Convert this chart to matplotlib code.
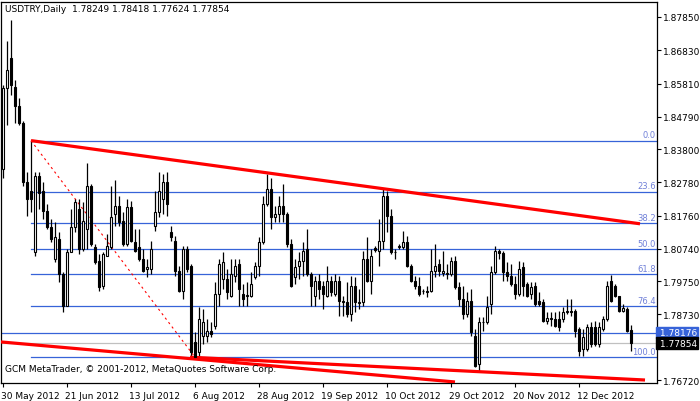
import matplotlib
matplotlib.use("Agg")
import matplotlib.pyplot as plt
from matplotlib.patches import Rectangle
import matplotlib.transforms as mt

symbol = "USDTRY,Daily"
opens = [1.8320,1.8566,1.8659,1.8569,1.8511,1.8459,1.8280,1.8253,1.8065,1.8296,
 1.8250,1.8191,1.8142,1.8044,1.8105,1.7998,1.7899,1.8065,1.8142,1.8197,
 1.8074,1.8136,1.8268,1.8081,1.8038,1.7961,1.8053,1.8081,1.8182,1.8207,
 1.8161,1.8090,1.8201,1.8096,1.8081,1.8044,1.8013,1.8013,1.8145,1.8188,
 1.8228,1.8280,1.8127,1.8099,1.8007,1.7945,1.8074,1.8022,1.7789,1.7758,
 1.7807,1.7807,1.7822,1.7838,1.7936,1.7982,1.7982,1.7930,1.7992,1.8028,
 1.7936,1.7930,1.7930,1.7988,1.8022,1.8096,1.8213,1.8259,1.8173,1.8182,
 1.8207,1.8182,1.8090,1.7988,1.8022,1.8038,1.8074,1.7998,1.7930,1.7976,
 1.7961,1.7930,1.7976,1.7936,1.7976,1.7915,1.7912,1.7875,1.7961,1.7908,
 1.7912,1.8044,1.7976,1.8078,1.8068,1.8099,1.8237,1.8176,1.8065,1.8081,
 1.8081,1.8096,1.8022,1.7976,1.7961,1.7945,1.7945,1.7945,1.8007,1.8028,
 1.8001,1.7998,1.7998,1.8038,1.7958,1.7921,1.7875,1.7915,1.7807,1.7721,
 1.7850,1.7850,1.7905,1.8004,1.8068,1.8062,1.8004,1.7992,1.7967,1.7936,
 1.8019,1.7967,1.7936,1.7961,1.7915,1.7912,1.7853,1.7859,1.7859,1.7859,
 1.7859,1.7881,1.7884,1.7884,1.7829,1.7767,1.7767,1.7835,1.7835,1.7782,
 1.7829,1.7859,1.7976,1.7961,1.7930,1.7884,1.7890,1.78249]
highs = [1.8576,1.8711,1.8775,1.8591,1.8536,1.8465,1.8311,1.8406,1.8311,1.8311,
 1.8280,1.8213,1.8167,1.8157,1.8127,1.8004,1.8074,1.8197,1.8228,1.8228,
 1.8219,1.8336,1.8274,1.8090,1.8059,1.8065,1.8121,1.8268,1.8284,1.8237,
 1.8188,1.8228,1.8222,1.8136,1.8136,1.8074,1.8044,1.8099,1.8250,1.8311,
 1.8305,1.8311,1.8145,1.8114,1.8022,1.8084,1.8084,1.8028,1.7819,1.7896,
 1.7890,1.7859,1.7850,1.7973,1.8044,1.8065,1.8013,1.8044,1.8044,1.8044,
 1.7967,1.7973,1.8004,1.8035,1.8111,1.8237,1.8305,1.8290,1.8207,1.8237,
 1.8274,1.8188,1.8105,1.8044,1.8065,1.8096,1.8136,1.8004,1.7992,1.7998,
 1.7976,1.8022,1.7992,1.7998,1.7992,1.7930,1.7973,1.7992,1.7988,1.7952,
 1.8068,1.8111,1.8074,1.8084,1.8167,1.8259,1.8253,1.8197,1.8074,1.8090,
 1.8130,1.8114,1.8028,1.7992,1.7988,1.7952,1.7961,1.8074,1.8090,1.8044,
 1.8068,1.8028,1.8050,1.8053,1.7973,1.7961,1.7942,1.7952,1.7829,1.7865,
 1.7865,1.7930,1.8022,1.8084,1.8074,1.8068,1.8035,1.8028,1.7992,1.8038,
 1.8035,1.7973,1.7973,1.7973,1.7942,1.7921,1.7881,1.7881,1.7881,1.7884,
 1.7896,1.7921,1.7921,1.7890,1.7835,1.7829,1.7844,1.7850,1.7853,1.7850,
 1.7869,1.7976,1.7995,1.7967,1.7930,1.7905,1.7896,1.78418]
lows = [1.8290,1.8453,1.8545,1.8459,1.8453,1.8268,1.8176,1.8188,1.8053,1.8197,
 1.8167,1.8136,1.8096,1.8035,1.7973,1.7881,1.7899,1.8065,1.8127,1.8059,
 1.8068,1.8074,1.8084,1.8028,1.7945,1.7952,1.8053,1.8074,1.8145,1.8145,
 1.8084,1.8084,1.8096,1.8065,1.8038,1.8004,1.7988,1.7998,1.8130,1.8173,
 1.8182,1.8176,1.8099,1.7992,1.7942,1.7921,1.8004,1.7746,1.7742,1.7742,
 1.7782,1.7789,1.7804,1.7829,1.7899,1.7952,1.7921,1.7927,1.7973,1.7899,
 1.7899,1.7899,1.7927,1.7982,1.7992,1.8090,1.8207,1.8136,1.8157,1.8157,
 1.8157,1.8081,1.7958,1.7967,1.7982,1.7992,1.7992,1.7899,1.7899,1.7921,
 1.7890,1.7927,1.7930,1.7930,1.7869,1.7869,1.7865,1.7853,1.7881,1.7890,
 1.7899,1.7973,1.7936,1.8065,1.8022,1.8074,1.8127,1.8059,1.8044,1.8074,
 1.8074,1.8019,1.7973,1.7952,1.7930,1.7936,1.7927,1.7942,1.7988,1.7992,
 1.7992,1.7982,1.7992,1.7952,1.7899,1.7859,1.7865,1.7807,1.7712,1.7699,
 1.7822,1.7844,1.7875,1.7998,1.8044,1.7976,1.7976,1.7961,1.7921,1.7930,
 1.7930,1.7927,1.7921,1.7899,1.7899,1.7850,1.7844,1.7838,1.7835,1.7822,
 1.7850,1.7875,1.7869,1.7804,1.7746,1.7746,1.7761,1.7773,1.7776,1.7773,
 1.7822,1.7853,1.7912,1.7927,1.7881,1.7881,1.7819,1.77624]
closes = [1.8566,1.8622,1.8576,1.8511,1.8459,1.8280,1.8228,1.8228,1.8296,1.8244,
 1.8191,1.8142,1.8105,1.8111,1.7998,1.7899,1.8065,1.8142,1.8219,1.8074,
 1.8161,1.8268,1.8090,1.8035,1.7958,1.8059,1.8084,1.8173,1.8207,1.8157,
 1.8090,1.8201,1.8099,1.8068,1.8044,1.8007,1.8019,1.8074,1.8188,1.8250,
 1.8280,1.8213,1.8111,1.8007,1.7945,1.8074,1.8013,1.7758,1.7742,1.7859,
 1.7850,1.7822,1.7813,1.7936,1.8028,1.8035,1.7942,1.7998,1.8022,1.7952,
 1.7921,1.7933,1.7967,1.8022,1.8096,1.8213,1.8259,1.8173,1.8182,1.8207,
 1.8182,1.8090,1.7961,1.8019,1.8038,1.8068,1.7998,1.7961,1.7976,1.7952,
 1.7936,1.7976,1.7942,1.7976,1.7915,1.7912,1.7875,1.7961,1.7912,1.7910,
 1.8044,1.7976,1.8053,1.8071,1.8099,1.8237,1.8176,1.8065,1.8064,1.8081,
 1.8096,1.8022,1.7976,1.7961,1.7936,1.7944,1.7942,1.8007,1.8022,1.8007,
 1.8007,1.7999,1.8038,1.7958,1.7921,1.7875,1.7915,1.7819,1.7715,1.7850,
 1.7851,1.7896,1.8004,1.8068,1.8062,1.8004,1.7992,1.7967,1.7936,1.8013,
 1.7961,1.7930,1.7958,1.7905,1.7905,1.7853,1.7862,1.7861,1.7838,1.7835,
 1.7881,1.7884,1.7881,1.7822,1.7761,1.7804,1.7835,1.7782,1.7782,1.7835,
 1.7859,1.7961,1.7915,1.7930,1.7884,1.7893,1.7822,1.77854]

date_labels = ["30 May 2012","21 Jun 2012","13 Jul 2012","6 Aug 2012","28 Aug 2012",
               "19 Sep 2012","10 Oct 2012","29 Oct 2012","20 Nov 2012","12 Dec 2012"]
label_every = 16
price_ticks = [1.87850,1.86830,1.85810,1.84790,1.83800,1.82780,1.81760,1.80740,
               1.79750,1.78730,1.77710,1.76720]
fib_levels = [0.0, 23.6, 38.2, 50.0, 61.8, 76.4, 100.0]
fib_high, fib_low = 1.8406, 1.7742
fib_start, fib_end_bar = 7, 48
upper_trend = [(7, 1.8406), (159.25, 1.8151)]
lower_trend_a = [(-0.75, 1.7789), (113.0, 1.7666)]
lower_trend_b = [(46.75, 1.7742), (160.5, 1.7672)]
blue_price = 1.78176
last_price = 1.77854

W, H = 700, 402
fig = plt.figure(figsize=(W/100, H/100), dpi=100)
L, R, T, B = 1, 657, 3, 384
ax = fig.add_axes([L/W, 1-B/H, (R-L)/W, (B-T)/H])
ax.set_xlim(-0.5, (R-3)/4)
ypx = lambda py: 1.87850 - (py-18)*0.0003066
ax.set_ylim(ypx(B), ypx(T))

n = len(closes)
bw = 0.55
for i in range(n):
    o, h, l, c = opens[i], highs[i], lows[i], closes[i]
    ax.plot([i, i], [l, h], color="black", lw=0.9, zorder=3, solid_capstyle="butt")
    lo, hi = min(o, c), max(o, c)
    hgt = max(hi-lo, 0.00008)
    fc = "white" if c >= o else "black"
    ax.add_patch(Rectangle((i-bw/2, lo), bw, hgt, facecolor=fc, edgecolor="black", lw=0.8, zorder=4))

xr = ax.get_xlim()[1]
fib_col = "#3763D8"
for lv in fib_levels:
    p = fib_high - lv/100*(fib_high-fib_low)
    ax.plot([fib_start, xr], [p, p], color=fib_col, lw=0.9, zorder=2)
    ax.text(xr-0.3, p+0.0004, f"{lv:.1f}", color="#7080D8", fontsize=6, ha="right", va="bottom", zorder=5)
ax.plot([fib_start, fib_end_bar], [fib_high, fib_low], color="red", lw=0.8, ls=(0, (2, 3)), zorder=2)
ax.axhline(blue_price, color=fib_col, lw=0.9, zorder=2)
ax.axhline(last_price, color="#C0C0C0", lw=0.9, zorder=1)
for ln in (upper_trend, lower_trend_a, lower_trend_b):
    ax.plot([ln[0][0], ln[1][0]], [ln[0][1], ln[1][1]], color="red", lw=2.3, zorder=3, solid_capstyle="butt")

ax.yaxis.tick_right()
ax.set_yticks(price_ticks)
ax.set_yticklabels([f"{p:.5f}" for p in price_ticks])
ax.set_xticks([k*label_every for k in range(len(date_labels))])
ax.set_xticklabels(date_labels)
ax.tick_params(axis="both", labelsize=6.5, length=3, width=0.8, pad=1.5, color="black")
ax.tick_params(axis="x", pad=3)
offs = mt.ScaledTranslation(-2/100, 0, fig.dpi_scale_trans)
for lab in ax.get_xticklabels():
    lab.set_horizontalalignment("left")
    lab.set_transform(lab.get_transform() + offs)
ax.get_yticklabels()[-2].set_visible(False)
for s in ax.spines.values():
    s.set_linewidth(0.9)

def box(p, txt, bg):
    ax.text(1.0, p, txt, transform=ax.get_yaxis_transform(), fontsize=6.5, color="white",
            ha="left", va="center", zorder=10,
            bbox=dict(boxstyle="square,pad=0.12", fc=bg, ec=bg))
box(blue_price, " 1.78176", "#3763D8")
box(last_price, " 1.77854", "black")

ax.text(0.006, 0.995, f"{symbol}  {opens[-1]:.5f} {highs[-1]:.5f} {lows[-1]:.5f} {closes[-1]:.5f}",
        transform=ax.transAxes, fontsize=6.5, ha="left", va="top", zorder=10)
ax.text(0.006, 0.025, "GCM MetaTrader, © 2001-2012, MetaQuotes Software Corp.",
        transform=ax.transAxes, fontsize=6.5, ha="left", va="bottom", zorder=10)
fig.savefig("out.png", dpi=100, facecolor="white")
